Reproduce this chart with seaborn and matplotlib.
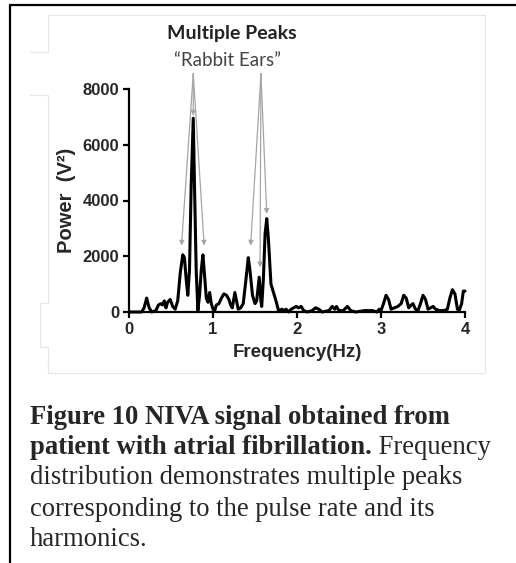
import matplotlib
matplotlib.use("Agg")
import matplotlib.pyplot as plt
from matplotlib.lines import Line2D
import seaborn as sns
import pandas as pd

# ---- data ----
freq = [0.00, 0.15, 0.18, 0.21, 0.24, 0.27, 0.32, 0.35, 0.38, 0.40, 0.42, 0.44, 0.46, 0.49,
        0.52, 0.55, 0.58, 0.61, 0.64, 0.66, 0.68, 0.70, 0.72, 0.74, 0.765, 0.78, 0.80, 0.82,
        0.84, 0.86, 0.88, 0.90, 0.92, 0.94, 0.96, 0.98, 1.00, 1.02, 1.04, 1.07, 1.10, 1.13,
        1.16, 1.19, 1.21, 1.23, 1.26, 1.28, 1.30, 1.33, 1.36, 1.39, 1.42, 1.44, 1.47, 1.50,
        1.52, 1.55, 1.57, 1.58, 1.60, 1.62, 1.64, 1.66, 1.69, 1.72, 1.75, 1.78, 1.82, 1.84,
        1.87, 1.90, 1.93, 1.96, 1.99, 2.02, 2.05, 2.08, 2.12, 2.18, 2.22, 2.26, 2.30, 2.38,
        2.42, 2.45, 2.47, 2.50, 2.55, 2.60, 2.64, 2.70, 2.80, 2.90, 2.95, 2.98, 3.00, 3.03,
        3.06, 3.09, 3.12, 3.16, 3.20, 3.24, 3.27, 3.30, 3.33, 3.36, 3.38, 3.41, 3.44, 3.47,
        3.50, 3.53, 3.56, 3.59, 3.62, 3.65, 3.70, 3.75, 3.79, 3.82, 3.85, 3.88, 3.91, 3.93,
        3.96, 3.98, 4.00]
power = [0, 0, 150, 500, 150, 0, 50, 250, 300, 250, 400, 150, 350, 450,
         200, 100, 400, 1400, 2050, 1950, 1200, 600, 1500, 4500, 6950, 4500, 1500, 50,
         600, 1500, 2050, 1300, 500, 350, 700, 300, 100, 50, 250, 300, 500, 650,
         600, 450, 250, 150, 700, 400, 100, 150, 300, 1100, 1950, 1500, 600, 300,
         400, 1250, 400, 200, 1200, 2800, 3350, 2600, 1000, 700, 400, 50, 100, 50,
         100, 0, 100, 150, 200, 150, 200, 50, 0, 50, 150, 100, 0, 50,
         200, 100, 200, 50, 50, 200, 50, 0, 50, 50, 0, 100, 50, 300,
         600, 450, 100, 150, 200, 300, 600, 500, 150, 250, 300, 100, 50, 300,
         600, 450, 100, 150, 200, 100, 50, 50, 100, 500, 800, 650, 100, 50,
         300, 750, 750]

x_ticks = [0, 1, 2, 3, 4]
y_ticks = [0, 2000, 4000, 6000, 8000]
title_text = "Multiple Peaks"
subtitle_text = "\u201cRabbit Ears\u201d"
x_label = "Frequency(Hz)"
y_label = "Power  (V\u00b2)"

# annotation arrows: (source, [targets])
arrow_groups = [
    ((0.765, 8550), [(0.765, 7050), (0.625, 2380), (0.895, 2380)]),
    ((1.571, 8550), [(1.448, 2380), (1.560, 1600), (1.640, 3520)]),
]

caption_bold_1 = "Figure 10 NIVA signal obtained from"
caption_bold_2 = "patient with atrial fibrillation."
caption_rest_2 = " Frequency"
caption_lines = ["distribution demonstrates multiple peaks",
                 "corresponding to the pulse rate and its",
                 "harmonics."]

df = pd.DataFrame({"freq": freq, "power": power})

sns.set_theme(style="ticks")
plt.rcParams["font.family"] = ["Liberation Sans", "DejaVu Sans"]

W, H = 516, 563
fig = plt.figure(figsize=(W / 100, H / 100), dpi=100)
fig.patch.set_facecolor("white")

# page borders
fig.add_artist(Line2D([10 / W, 10 / W], [0, 1 - 5 / H], color="black", lw=1.6))
fig.add_artist(Line2D([10 / W, 1], [1 - 5 / H, 1 - 5 / H], color="black", lw=1.6))
# light image frame
gray = "#e6e6e6"
def fl(xs, ys):
    fig.add_artist(Line2D([x / W for x in xs], [1 - y / H for y in ys], color=gray, lw=0.8))
fl([48, 485, 485, 48, 48], [15, 15, 373, 373, 358])
fl([48, 48], [15, 52])
fl([30, 48], [52, 52])
fl([30, 48], [95, 95])
fl([48, 48], [95, 303])
fl([40, 48], [303, 303])
fl([40, 40], [303, 347])
fl([40, 48], [347, 347])
fl([48, 48], [347, 373])

ax = fig.add_axes([129 / W, 1 - 312 / H, 336 / W, 223 / H])
sns.lineplot(data=df, x="freq", y="power", ax=ax, color="black", lw=2.2, clip_on=False)
ax.set_xlim(0, 4)
ax.set_ylim(0, 8000)
ax.set_xticks(x_ticks)
ax.set_yticks(y_ticks)
ax.set_xticklabels([str(t) for t in x_ticks], fontweight="bold", fontsize=12)
ax.set_yticklabels([str(t) for t in y_ticks], fontweight="bold", fontsize=12)
ax.tick_params(axis="both", direction="out", length=4, width=1.6, color="black", pad=3)
for s in ["top", "right"]:
    ax.spines[s].set_visible(False)
for s in ["left", "bottom"]:
    ax.spines[s].set_linewidth(1.6)
    ax.spines[s].set_color("black")
ax.set_xlabel(x_label, fontweight="bold", fontsize=13.5, labelpad=5)
ax.set_ylabel(y_label, fontweight="bold", fontsize=14.5, labelpad=5)
ax.set_facecolor("white")

for src, targets in arrow_groups:
    for tgt in targets:
        ax.annotate("", xy=tgt, xytext=src, annotation_clip=False,
                    arrowprops=dict(arrowstyle="-|>", color="#a5a5a5", lw=0.9,
                                    mutation_scale=7, shrinkA=0, shrinkB=0))

fig.text(232 / W, 1 - 33 / H, title_text, ha="center", va="center",
         fontweight="bold", fontsize=14, family=["Lato", "DejaVu Sans"], color="#222222")
fig.text(227 / W, 1 - 60 / H, subtitle_text, ha="center", va="center",
         fontsize=13.5, family=["Lato", "DejaVu Sans"], color="#444444")

serif = ["Liberation Serif", "DejaVu Serif"]
cap_fs = 19.2
fig.text(30 / W, 1 - 417 / H, caption_bold_1, ha="left", va="center",
         fontsize=cap_fs, fontweight="bold", family=serif)
t = fig.text(30 / W, 1 - 447 / H, caption_bold_2, ha="left", va="center",
             fontsize=cap_fs, fontweight="bold", family=serif)
fig.canvas.draw()
bb = t.get_window_extent()
fig.text(bb.x1 / W, 1 - 447 / H, caption_rest_2, ha="left", va="center",
         fontsize=cap_fs, family=serif)
for i, line in enumerate(caption_lines):
    fig.text(30 / W, 1 - (478 + 31 * i) / H, line, ha="left", va="center",
             fontsize=cap_fs, family=serif)

fig.savefig("out.png", dpi=100)
